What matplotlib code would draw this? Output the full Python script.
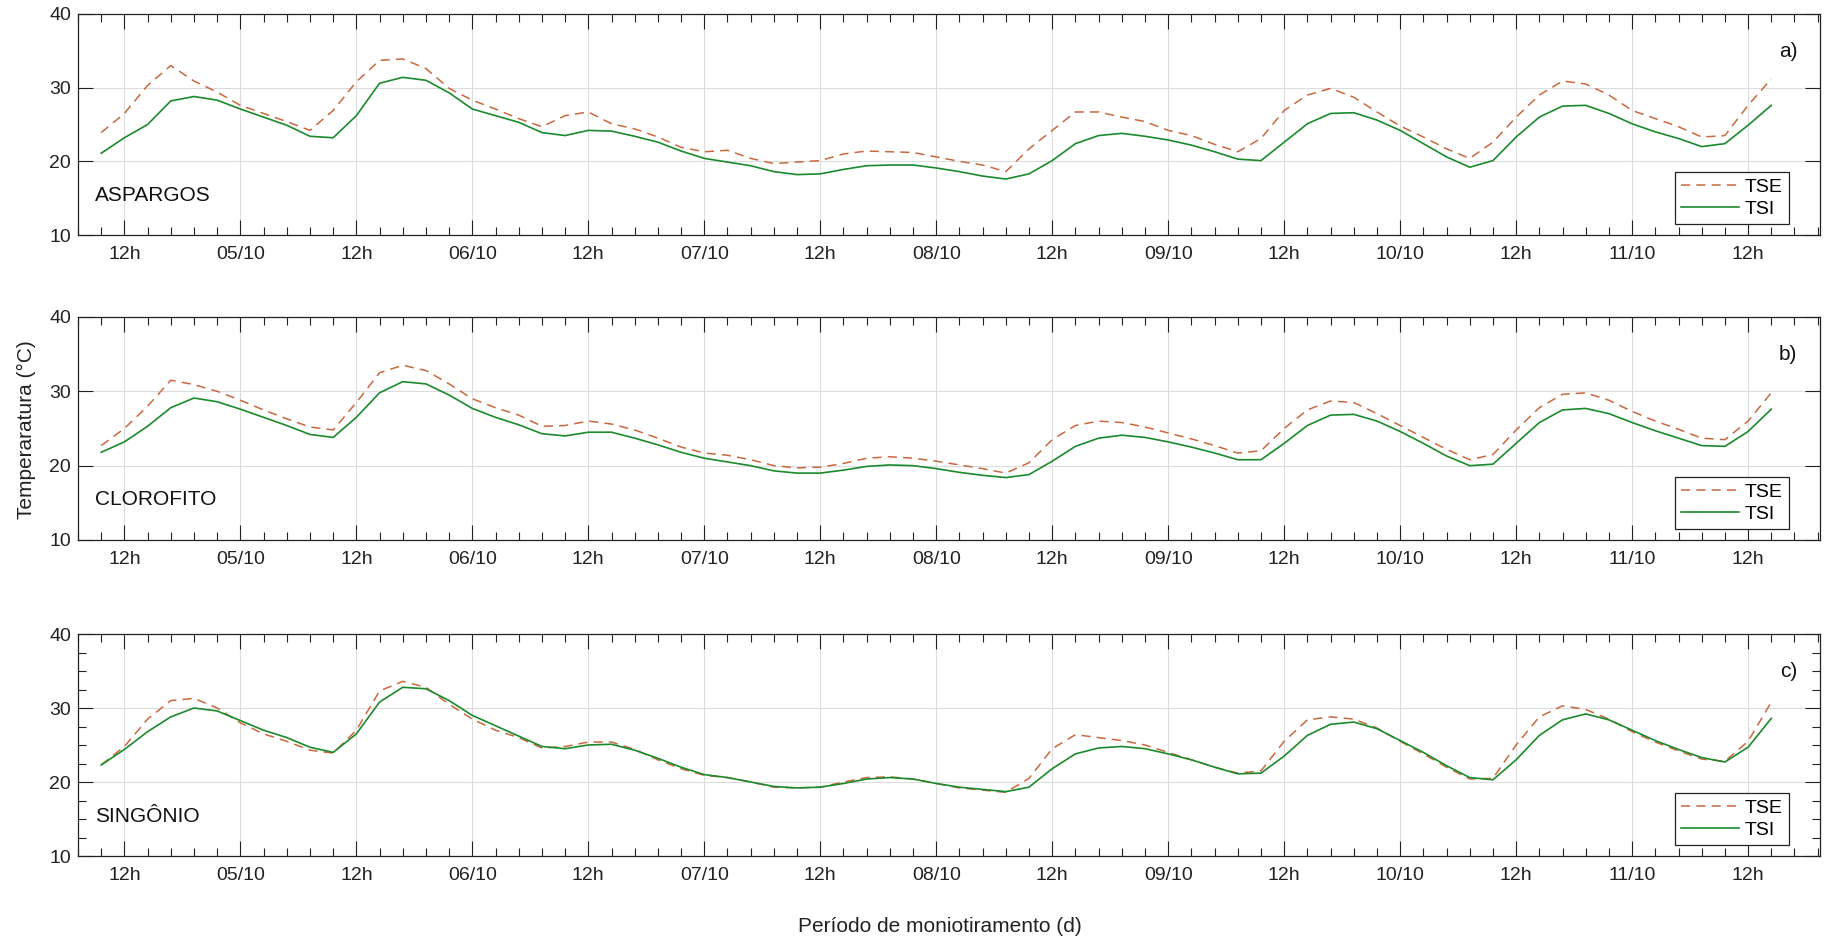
import numpy as np
import matplotlib
matplotlib.use("Agg")
import matplotlib.pyplot as plt
from matplotlib.ticker import MultipleLocator

plt.rcParams['font.family'] = ['Liberation Sans', 'DejaVu Sans']

# sampling grid, in days of October (4.5 = 04/10 12h)
t_days = np.round(np.arange(4.4, 11.65, 0.1), 2)

# a) ASPARGOS
tse_a = [23.9, 26.5, 30.3, 33.0, 30.9, 29.4, 27.6, 26.5, 25.4, 24.2,
         26.9, 30.8, 33.7, 33.9, 32.6, 29.9, 28.3, 27.1, 25.8, 24.7,
         26.2, 26.7, 25.1, 24.4, 23.3, 21.9, 21.3, 21.5, 20.4, 19.7,
         19.9, 20.1, 21.0, 21.4, 21.3, 21.2, 20.6, 20.0, 19.5, 18.6,
         21.7, 24.2, 26.7, 26.7, 26.0, 25.4, 24.2, 23.5, 22.3, 21.3,
         23.1, 26.9, 29.0, 29.9, 28.7, 26.7, 24.8, 23.3, 21.7, 20.4,
         22.6, 26.0, 29.0, 30.9, 30.5, 29.0, 26.9, 25.8, 24.7, 23.3,
         23.5, 27.6, 31.2]
tsi_a = [21.1, 23.2, 25.0, 28.2, 28.8, 28.3, 27.1, 26.0, 24.9, 23.4,
         23.2, 26.2, 30.6, 31.4, 31.0, 29.3, 27.1, 26.2, 25.3, 23.9,
         23.5, 24.2, 24.1, 23.4, 22.6, 21.4, 20.4, 19.9, 19.4, 18.6,
         18.2, 18.3, 18.9, 19.4, 19.5, 19.5, 19.1, 18.6, 18.0, 17.6,
         18.3, 20.1, 22.4, 23.5, 23.8, 23.4, 22.9, 22.2, 21.3, 20.3,
         20.1, 22.6, 25.1, 26.5, 26.6, 25.6, 24.2, 22.4, 20.6, 19.2,
         20.1, 23.3, 26.0, 27.5, 27.6, 26.5, 25.1, 24.0, 23.1, 22.0,
         22.4, 24.9, 27.6]

# b) CLOROFITO
tse_b = [22.7, 25.0, 28.0, 31.5, 30.9, 30.0, 28.8, 27.5, 26.3, 25.2,
         24.8, 28.5, 32.5, 33.5, 32.8, 31.0, 29.0, 27.8, 26.8, 25.3,
         25.4, 26.0, 25.6, 24.8, 23.7, 22.5, 21.7, 21.4, 20.8, 20.0,
         19.7, 19.8, 20.3, 21.0, 21.2, 21.0, 20.6, 20.1, 19.6, 19.0,
         20.4, 23.5, 25.4, 26.0, 25.8, 25.2, 24.4, 23.6, 22.7, 21.7,
         22.0, 25.0, 27.5, 28.7, 28.5, 27.0, 25.4, 23.8, 22.2, 20.8,
         21.5, 24.8, 27.8, 29.6, 29.8, 28.8, 27.3, 26.0, 24.9, 23.7,
         23.5, 26.0, 29.8]
tsi_b = [21.8, 23.2, 25.3, 27.8, 29.1, 28.6, 27.6, 26.5, 25.4, 24.2,
         23.8, 26.5, 29.8, 31.3, 31.0, 29.5, 27.7, 26.5, 25.5, 24.3,
         24.0, 24.5, 24.5, 23.7, 22.8, 21.8, 21.0, 20.5, 20.0, 19.3,
         19.0, 19.0, 19.4, 19.9, 20.1, 20.0, 19.6, 19.1, 18.7, 18.4,
         18.8, 20.6, 22.6, 23.7, 24.1, 23.8, 23.2, 22.5, 21.7, 20.8,
         20.8, 23.0, 25.4, 26.8, 26.9, 26.0, 24.6, 23.0, 21.3, 20.0,
         20.2, 23.0, 25.8, 27.5, 27.7, 27.0, 25.8, 24.7, 23.7, 22.7,
         22.6, 24.6, 27.6]

# c) SINGÔNIO
tse_c = [22.3, 24.8, 28.5, 31.0, 31.3, 30.0, 28.0, 26.5, 25.5, 24.3,
         23.9, 27.0, 32.3, 33.6, 32.8, 30.5, 28.5, 27.0, 26.0, 24.6,
         24.8, 25.4, 25.4, 24.4, 23.0, 21.8, 20.9, 20.6, 20.0, 19.3,
         19.2, 19.3, 20.0, 20.6, 20.7, 20.4, 19.8, 19.2, 18.9, 18.6,
         20.5, 24.5, 26.4, 26.0, 25.6, 25.0, 24.0, 23.0, 22.0, 21.2,
         21.5, 25.5, 28.4, 28.8, 28.5, 27.3, 25.5, 23.8, 22.0, 20.4,
         20.5, 25.0, 28.8, 30.3, 29.8, 28.5, 26.8, 25.4, 24.2, 23.1,
         22.8, 25.5, 30.8]
tsi_c = [22.3, 24.4, 26.8, 28.8, 30.0, 29.6, 28.3, 27.0, 26.0, 24.7,
         24.0, 26.5, 30.8, 32.8, 32.6, 31.0, 29.0, 27.6, 26.2, 24.8,
         24.5, 25.0, 25.1, 24.3, 23.2, 22.0, 21.0, 20.6, 20.0, 19.4,
         19.2, 19.3, 19.8, 20.4, 20.6, 20.4, 19.8, 19.3, 19.0, 18.7,
         19.3, 21.8, 23.8, 24.6, 24.8, 24.5, 23.8, 23.0, 22.0, 21.1,
         21.2, 23.5, 26.3, 27.8, 28.1, 27.2, 25.6, 24.0, 22.2, 20.6,
         20.3, 23.0, 26.3, 28.4, 29.2, 28.4, 27.0, 25.6, 24.4, 23.3,
         22.7, 24.7, 28.6]

panel_names = ['ASPARGOS', 'CLOROFITO', 'SINGÔNIO']
panel_tags = ['a)', 'b)', 'c)']
tick_days = [4.5, 5.0, 5.5, 6.0, 6.5, 7.0, 7.5, 8.0,
             8.5, 9.0, 9.5, 10.0, 10.5, 11.0, 11.5]
tick_labels = ['12h', '05/10', '12h', '06/10', '12h', '07/10', '12h', '08/10',
               '12h', '09/10', '12h', '10/10', '12h', '11/10', '12h']
y_ticks = [10, 20, 30, 40]

TSE_COLOR = '#c9683e'
TSI_COLOR = '#1b8a2c'
FS = 14

fig = plt.figure(figsize=(18.25, 9.47), dpi=100)
W, H = 1825, 947
boxes = [(14, 235), (317, 540), (634, 856)]  # top/bottom in pixels
series = [(tse_a, tsi_a), (tse_b, tsi_b), (tse_c, tsi_c)]

for i, (top, bottom) in enumerate(boxes):
    ax = fig.add_axes([78 / W, (H - bottom) / H, 1742 / W, (bottom - top) / H])
    tse, tsi = series[i]
    ax.plot(t_days, tse, ls=(0, (6, 4)), color=TSE_COLOR, lw=1.1, label='TSE')
    ax.plot(t_days, tsi, ls='-', color=TSI_COLOR, lw=1.2, label='TSI')

    ax.set_xlim(4.3, 11.81)
    ax.set_ylim(10, 40)
    ax.set_xticks(tick_days)
    ax.set_xticklabels(tick_labels)
    ax.xaxis.set_minor_locator(MultipleLocator(0.1))
    ax.set_yticks(y_ticks)
    if i == 2:
        ax.yaxis.set_minor_locator(MultipleLocator(2.5))

    ax.grid(True, which='major', color='#dcdcdc', lw=0.8)
    ax.set_axisbelow(True)
    ax.tick_params(which='both', direction='in', top=True, right=True,
                   labelsize=FS, colors='#222222', width=0.8)
    ax.tick_params(which='major', length=11, pad=8)
    ax.tick_params(axis='y', which='major', pad=5)
    ax.tick_params(which='minor', length=6)
    for s in ax.spines.values():
        s.set_color('#222222')
        s.set_linewidth(0.9)

    ax.text(0.0098, 0.18, panel_names[i], transform=ax.transAxes,
            fontsize=FS + 1, va='center', ha='left', color='#111111')
    ax.text(0.987, 0.83, panel_tags[i], transform=ax.transAxes,
            fontsize=FS + 1, va='center', ha='right', color='#111111')

    leg = ax.legend(loc='lower right', bbox_to_anchor=(0.982, 0.05),
                    borderaxespad=0, fontsize=FS, handlelength=3.0,
                    fancybox=False, framealpha=1, edgecolor='#222222',
                    borderpad=0.3, labelspacing=0.25, handletextpad=0.3)
    leg.get_frame().set_linewidth(0.9)

fig.text(26 / W, 1 - 430 / H, 'Temperaratura (°C)', rotation=90,
         fontsize=FS + 1, ha='center', va='center', color='#222222')
fig.text(940 / W, 1 - 926 / H, 'Período de moniotiramento (d)',
         fontsize=FS + 1, ha='center', va='center', color='#222222')

fig.savefig('out.png', dpi=100)
